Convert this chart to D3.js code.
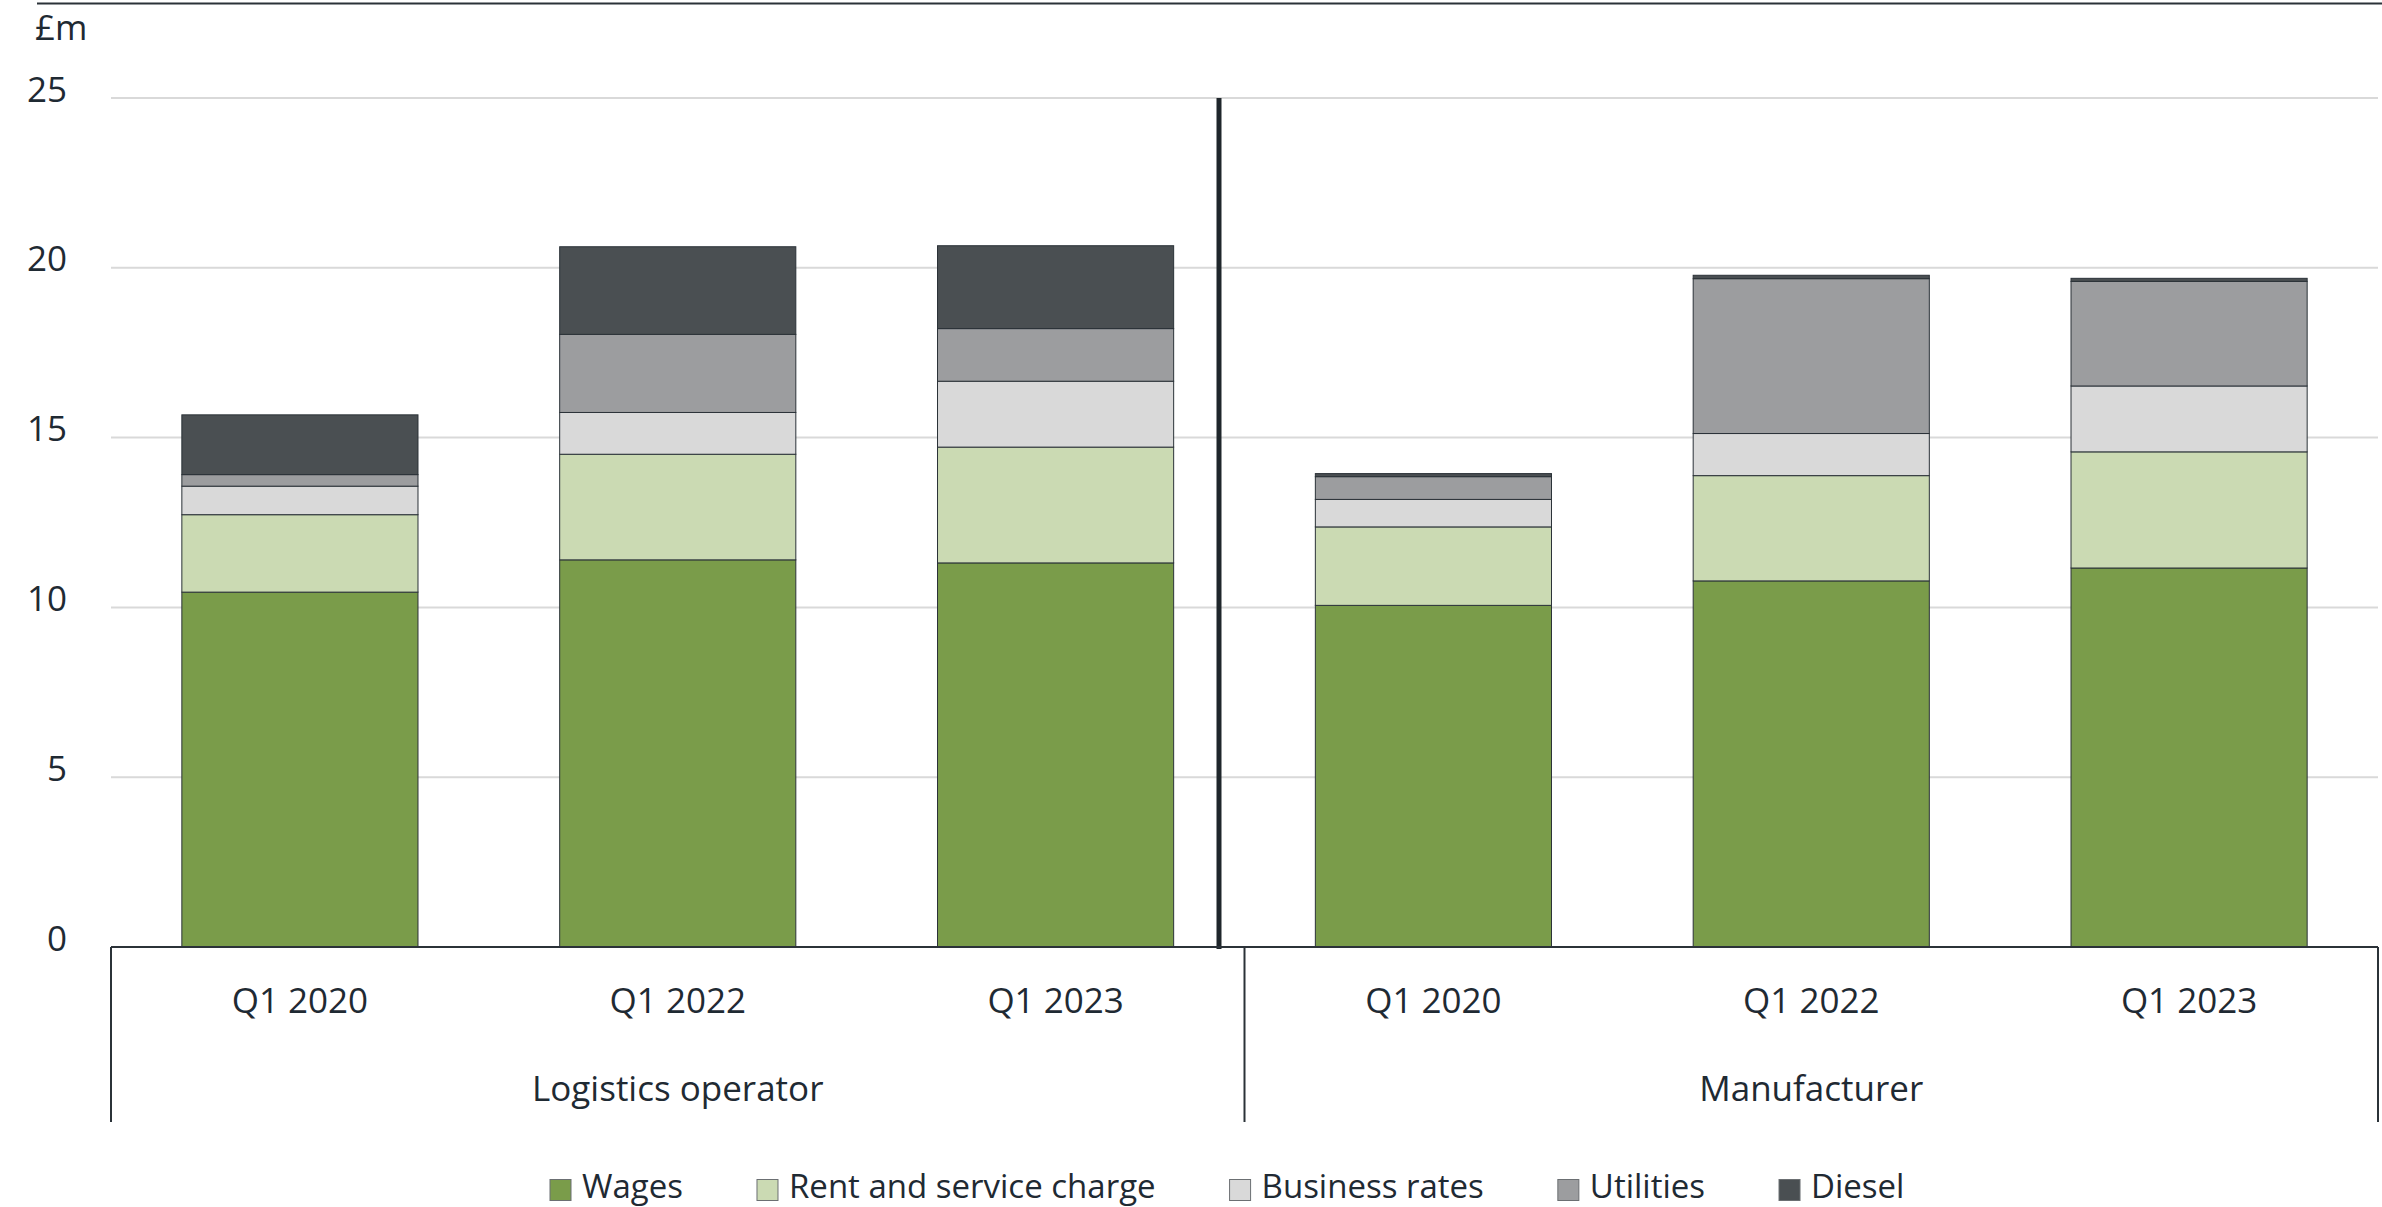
<!DOCTYPE html>
<html>
  <head>
    <title>Cost breakdown</title>
    <script src="https://d3js.org/d3.v7.min.js"></script>
    <style>
      body { margin: 0; background: #fff; }
      svg text {
        font-family: "Open Sans", "Noto Sans", sans-serif;
        fill: #1f2a33;
      }
      .grid line { stroke: #d9d9d9; stroke-width: 2px; }
      .bar rect { stroke: #2b3238; stroke-width: 1px; }
    </style>
  </head>
  <body>
    <svg width="2382" height="1207"></svg>
    <script>
      const groups = ["Logistics operator", "Manufacturer"];
      const periods = ["Q1 2020", "Q1 2022", "Q1 2023"];
      const seriesNames = ["Wages", "Rent and service charge", "Business rates", "Utilities", "Diesel"];
      const seriesColors = ["#7a9c4a", "#cbdab3", "#d9d9d9", "#9c9d9f", "#4a4f52"];

      // one value per bar: logistics x3, then manufacturer x3
      const wages = [10.45, 11.40, 11.31, 10.06, 10.78, 11.16];
      const rent = [2.28, 3.11, 3.41, 2.31, 3.10, 3.42];
      const businessRates = [0.84, 1.23, 1.94, 0.81, 1.24, 1.94];
      const utilities = [0.34, 2.30, 1.55, 0.67, 4.56, 3.08];
      const diesel = [1.76, 2.58, 2.44, 0.09, 0.10, 0.09];
      const yTicks = [0, 5, 10, 15, 20, 25];

      const svg = d3.select("svg");
      const plotLeft = 111, plotRight = 2378, plotTop = 98, plotBottom = 947;

      const rows = [];
      groups.forEach((g, gi) => periods.forEach((p, pi) => {
        const i = gi * periods.length + pi;
        rows.push({
          key: g + "|" + p, group: g, period: p,
          "Wages": wages[i],
          "Rent and service charge": rent[i],
          "Business rates": businessRates[i],
          "Utilities": utilities[i],
          "Diesel": diesel[i]
        });
      }));

      const x = d3.scaleBand()
        .domain(rows.map(d => d.key))
        .range([plotLeft, plotRight])
        .paddingInner(0.375)
        .paddingOuter(0.1875);

      const y = d3.scaleLinear().domain([0, 25]).range([plotBottom, plotTop]);
      const color = d3.scaleOrdinal().domain(seriesNames).range(seriesColors);

      // top rule
      svg.append("line")
        .attr("x1", 37).attr("x2", 2382)
        .attr("y1", 3.5).attr("y2", 3.5)
        .attr("stroke", "#2b3238").attr("stroke-width", 2);

      svg.append("text")
        .attr("x", 35).attr("y", 40)
        .attr("font-size", 35)
        .text("£m");

      // gridlines + y labels
      const grid = svg.append("g").attr("class", "grid");
      grid.selectAll("line")
        .data(yTicks.filter(t => t > 0))
        .enter().append("line")
          .attr("x1", plotLeft).attr("x2", plotRight)
          .attr("y1", d => y(d)).attr("y2", d => y(d));

      svg.append("g")
        .selectAll("text")
        .data(yTicks)
        .enter().append("text")
          .attr("x", 67)
          .attr("y", d => y(d) + 3.5)
          .attr("text-anchor", "end")
          .attr("font-size", 35)
          .text(d => d);

      // stacked bars
      const stacked = d3.stack().keys(seriesNames)(rows);
      svg.append("g")
        .selectAll("g")
        .data(stacked)
        .enter().append("g")
          .attr("class", "bar")
          .attr("fill", d => color(d.key))
        .selectAll("rect")
        .data(d => d)
        .enter().append("rect")
          .attr("x", d => x(d.data.key))
          .attr("width", x.bandwidth())
          .attr("y", d => y(d[1]))
          .attr("height", d => y(d[0]) - y(d[1]));

      // divider between the two businesses
      const gap = x.step() - x.bandwidth();
      const divX = x(rows[2].key) + x.bandwidth() + gap * 0.32;
      svg.append("line")
        .attr("x1", divX).attr("x2", divX)
        .attr("y1", y(25)).attr("y2", plotBottom + 2)
        .attr("stroke", "#1f262b").attr("stroke-width", 5);

      // category axis
      const axisG = svg.append("g")
        .attr("stroke", "#2b3238").attr("stroke-width", 2);
      axisG.append("line")
        .attr("x1", plotLeft).attr("x2", plotRight)
        .attr("y1", plotBottom).attr("y2", plotBottom);
      const mid = (plotLeft + plotRight) / 2;
      [plotLeft, mid, plotRight].forEach(v => {
        axisG.append("line")
          .attr("x1", v).attr("x2", v)
          .attr("y1", plotBottom).attr("y2", 1122);
      });

      svg.append("g")
        .selectAll("text")
        .data(rows)
        .enter().append("text")
          .attr("x", d => x(d.key) + x.bandwidth() / 2)
          .attr("y", 1013)
          .attr("text-anchor", "middle")
          .attr("font-size", 35)
          .text(d => d.period);

      const groupX = d3.scaleBand().domain(groups).range([plotLeft, plotRight]);
      svg.append("g")
        .selectAll("text")
        .data(groups)
        .enter().append("text")
          .attr("x", d => groupX(d) + groupX.bandwidth() / 2)
          .attr("y", 1101)
          .attr("text-anchor", "middle")
          .attr("font-size", 35)
          .text(d => d);

      // legend
      const legendG = svg.append("g").attr("transform", "translate(550, 1190)");
      let cursor = 0;
      seriesNames.forEach(name => {
        const item = legendG.append("g").attr("transform", `translate(${cursor}, 0)`);
        item.append("rect")
          .attr("x", 0).attr("y", -10.5)
          .attr("width", 21).attr("height", 21)
          .attr("fill", color(name))
          .attr("stroke", "#6b6f72").attr("stroke-width", 1);
        const t = item.append("text")
          .attr("x", 32).attr("y", 8)
          .attr("font-size", 33)
          .text(name);
        cursor += 32 + t.node().getComputedTextLength() + 74;
      });
    </script>
  </body>
</html>
